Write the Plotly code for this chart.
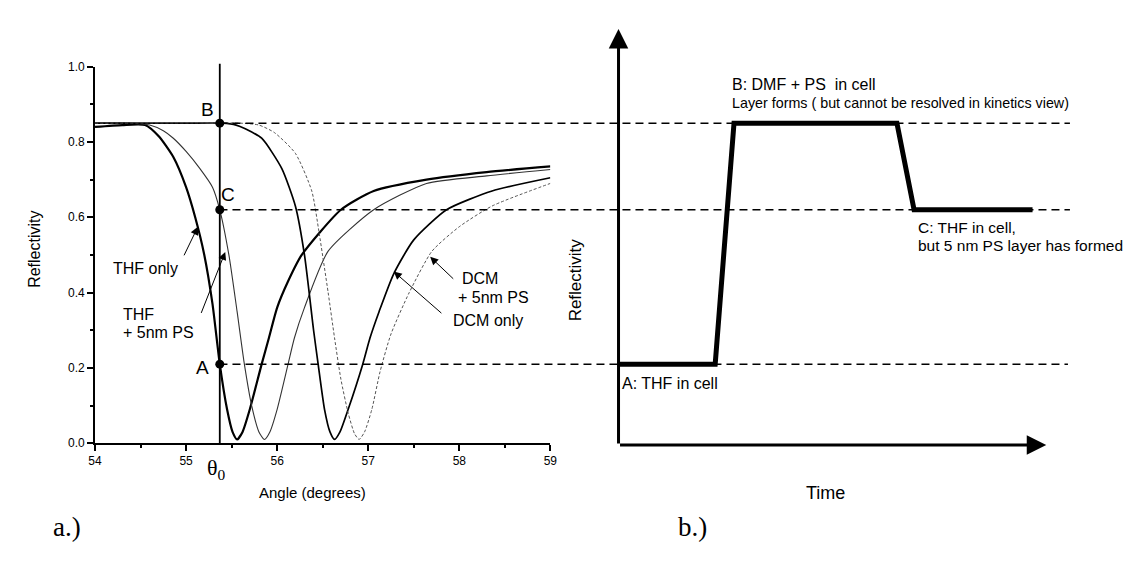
import plotly.graph_objects as go

W, H = 1144, 569

# ---------------- data ----------------
thf_only_x = [54.0, 54.3, 54.55, 54.7, 54.86, 55.0, 55.1, 55.2, 55.29, 55.37, 55.45, 55.51, 55.56,
              55.62, 55.7, 55.83, 55.91, 56.0, 56.12, 56.27, 56.7, 57.06, 57.64, 58.3, 59.0]
thf_only_y = [0.84, 0.845, 0.845, 0.815, 0.76, 0.68, 0.60, 0.50, 0.37, 0.21, 0.09, 0.03, 0.01,
              0.03, 0.09, 0.21, 0.28, 0.36, 0.43, 0.50, 0.62, 0.67, 0.70, 0.72, 0.735]

thf_ps_x = [54.0, 54.4, 54.6, 54.75, 54.86, 55.0, 55.15, 55.29, 55.37, 55.47, 55.56, 55.64, 55.72,
            55.8, 55.86, 55.92, 56.0, 56.12, 56.19, 56.3, 56.56, 57.06, 57.64, 58.3, 59.0]
thf_ps_y = [0.85, 0.85, 0.845, 0.83, 0.81, 0.775, 0.73, 0.68, 0.62, 0.50, 0.35, 0.21, 0.10,
            0.03, 0.01, 0.03, 0.09, 0.21, 0.28, 0.36, 0.51, 0.62, 0.69, 0.71, 0.727]

dcm_only_x = [54.0, 55.0, 55.4, 55.55, 55.65, 55.83, 56.05, 56.2, 56.3, 56.4, 56.45, 56.52, 56.58,
              56.63, 56.69, 56.78, 56.94, 57.02, 57.12, 57.28, 57.5, 57.86, 58.36, 59.0]
dcm_only_y = [0.85, 0.85, 0.85, 0.845, 0.835, 0.81, 0.73, 0.63, 0.50, 0.30, 0.21, 0.09, 0.03,
              0.01, 0.03, 0.09, 0.21, 0.28, 0.35, 0.45, 0.54, 0.62, 0.67, 0.705]

dcm_ps_x = [54.0, 55.6, 55.8, 55.97, 56.2, 56.38, 56.46, 56.56, 56.63, 56.7, 56.78, 56.85, 56.9,
            56.96, 57.04, 57.13, 57.25, 57.45, 57.7, 58.0, 58.36, 59.0]
dcm_ps_y = [0.85, 0.85, 0.845, 0.825, 0.77, 0.67, 0.56, 0.40, 0.28, 0.17, 0.08, 0.025, 0.01,
            0.03, 0.09, 0.19, 0.29, 0.40, 0.51, 0.575, 0.63, 0.69]

theta0 = 55.37
level_names = ["A", "B", "C"]
level_vals = [0.21, 0.85, 0.62]
A_val, B_val, C_val = level_vals

x_ticks = [54, 55, 56, 57, 58, 59]
y_ticks = [0.0, 0.2, 0.4, 0.6, 0.8, 1.0]

time_pts = [0, 22.6, 27.0, 65.1, 69.1, 96.8]
time_refl = [A_val, A_val, B_val, B_val, C_val, C_val]

# ---------------- helpers ----------------
def px(x):
    return x / W

def py(y):
    return 1 - y / H

SANS = "Liberation Sans, Arial, sans-serif"
SERIF = "Liberation Serif, Times New Roman, serif"

fig = go.Figure()

# left panel curves
fig.add_trace(go.Scatter(x=thf_only_x, y=thf_only_y, mode="lines",
                         line=dict(color="black", width=2.2, shape="spline", smoothing=0.6),
                         name="THF only", xaxis="x", yaxis="y"))
fig.add_trace(go.Scatter(x=thf_ps_x, y=thf_ps_y, mode="lines",
                         line=dict(color="#333333", width=1.1, shape="spline", smoothing=0.6),
                         name="THF + 5nm PS", xaxis="x", yaxis="y"))
fig.add_trace(go.Scatter(x=dcm_only_x, y=dcm_only_y, mode="lines",
                         line=dict(color="black", width=1.7, shape="spline", smoothing=0.6),
                         name="DCM only", xaxis="x", yaxis="y"))
fig.add_trace(go.Scatter(x=dcm_ps_x, y=dcm_ps_y, mode="lines",
                         line=dict(color="#555555", width=1.0, dash="3px,2px", shape="spline", smoothing=0.6),
                         name="DCM + 5nm PS", xaxis="x", yaxis="y"))

# points A, B, C on theta0
fig.add_trace(go.Scatter(x=[theta0] * 3, y=level_vals, mode="markers",
                         marker=dict(color="black", size=9), cliponaxis=False,
                         xaxis="x", yaxis="y"))

# right panel step
fig.add_trace(go.Scatter(x=time_pts, y=time_refl, mode="lines",
                         line=dict(color="black", width=5), cliponaxis=False,
                         xaxis="x2", yaxis="y2"))

shapes = []
# theta0 vertical line
shapes.append(dict(type="line", xref="x", yref="paper", x0=theta0, x1=theta0,
                   y0=py(439), y1=py(50), line=dict(color="black", width=1.8)))
# dashed level lines across both panels
ends = {"A": 1066, "B": 1068, "C": 1068}
for nm, v in zip(level_names, level_vals):
    shapes.append(dict(type="line", xref="paper", yref="y", x0=px(207), x1=px(ends[nm]),
                       y0=v, y1=v, line=dict(color="black", width=1.5, dash="8px,5px")))

ann = []
# right panel axes arrows
ann.append(dict(x=0, y=1.10, ax=0, ay=-0.005, xref="x2", yref="y2", axref="x2", ayref="y2",
                text="", showarrow=True, arrowhead=2, arrowsize=1.3, arrowwidth=3, arrowcolor="black"))
ann.append(dict(x=100, y=-0.005, ax=0, ay=-0.005, xref="x2", yref="y2", axref="x2", ayref="y2",
                text="", showarrow=True, arrowhead=2, arrowsize=1.3, arrowwidth=3, arrowcolor="black"))

def txt(x, y, s, size=13, font=SANS, xanchor="center", textangle=0, xref="paper", yref="paper"):
    ann.append(dict(x=x, y=y, xref=xref, yref=yref, text=s, showarrow=False,
                    font=dict(family=font, size=size, color="black"),
                    xanchor=xanchor, yanchor="middle", textangle=textangle))

def arrow(x, y, ax, ay, width=1.0, size=1.6):
    ann.append(dict(x=x, y=y, ax=ax, ay=ay, xref="x", yref="y", axref="x", ayref="y",
                    text="", showarrow=True, arrowhead=2, arrowsize=size, arrowwidth=width,
                    arrowcolor="black"))

# point labels
txt(55.23, 0.886, "B", size=19, xref="x", yref="y")
txt(55.46, 0.66, "C", size=19, xref="x", yref="y")
txt(55.18, 0.20, "A", size=19, xref="x", yref="y")

# curve labels and arrows (left panel)
txt(px(132), py(260), "THF only", size=16)
arrow(55.13, 0.575, 54.97, 0.495)
txt(px(107), py(307), "THF", size=16, xanchor="left")
txt(px(107), py(325), "+ 5nm PS", size=16, xanchor="left")
arrow(55.43, 0.508, 55.16, 0.342)
txt(px(451), py(270), "DCM", size=16, xanchor="left")
txt(px(446), py(290), "+ 5nm PS", size=16, xanchor="left")
arrow(57.68, 0.495, 57.95, 0.433)
txt(px(441), py(313), "DCM only", size=16, xanchor="left")
arrow(57.28, 0.456, 57.82, 0.342)

# axis titles
txt(px(19), py(240), "Reflectivity", size=16, textangle=-90)
txt(px(301), py(490), "Angle (degrees)", size=15)
txt(px(204), py(465), "θ<sub>0</sub>", size=22, font=SERIF)

# right panel texts
txt(px(724), py(71), "B: DMF + PS  in cell", size=16, xanchor="left")
txt(px(724), py(90), "Layer forms ( but cannot be resolved in kinetics view)", size=14.3, xanchor="left")
txt(px(912), py(218), "C: THF in cell,", size=15.5, xanchor="left")
txt(px(912), py(236), "but 5 nm PS layer has formed", size=15.5, xanchor="left")
txt(px(613), py(378), "A: THF in cell", size=16, xanchor="left")
txt(px(567), py(272), "Reflectivity", size=17, textangle=-90)
txt(px(821), py(490), "Time", size=18)

# panel letters
txt(px(53), py(525), "a.)", size=27, font=SERIF)
txt(px(686), py(525), "b.)", size=27, font=SERIF)

fig.update_layout(
    width=W, height=H, margin=dict(l=0, r=0, t=0, b=0),
    paper_bgcolor="white", plot_bgcolor="rgba(0,0,0,0)",
    showlegend=False, shapes=shapes, annotations=ann,
    xaxis=dict(domain=[px(81), px(542)], range=[54, 59], tickvals=x_ticks,
               ticktext=[str(v) for v in x_ticks],
               showline=True, linecolor="black", linewidth=1.8, ticks="outside", ticklen=6,
               tickwidth=1.5, tickcolor="black", showgrid=False, zeroline=False,
               tickfont=dict(family=SANS, size=12, color="black"),
               minor=dict(ticks="outside", ticklen=3, dtick=0.5, tickcolor="black", showgrid=False),
               anchor="y"),
    yaxis=dict(domain=[py(439), py(53)], range=[0, 1], tickvals=y_ticks,
               ticktext=[f"{v:.1f}" for v in y_ticks],
               showline=True, linecolor="black", linewidth=1.8, ticks="outside", ticklen=6,
               tickwidth=1.5, tickcolor="black", showgrid=False, zeroline=False,
               tickfont=dict(family=SANS, size=12, color="black"),
               minor=dict(ticks="outside", ticklen=3, dtick=0.1, tickcolor="black", showgrid=False),
               anchor="x"),
    xaxis2=dict(domain=[px(611), px(1044)], range=[0, 100], visible=False, anchor="y2"),
    yaxis2=dict(domain=[py(441), py(8)], range=[-0.00518, 1.1166], visible=False, anchor="x2"),
)

fig.write_html("out.html")
